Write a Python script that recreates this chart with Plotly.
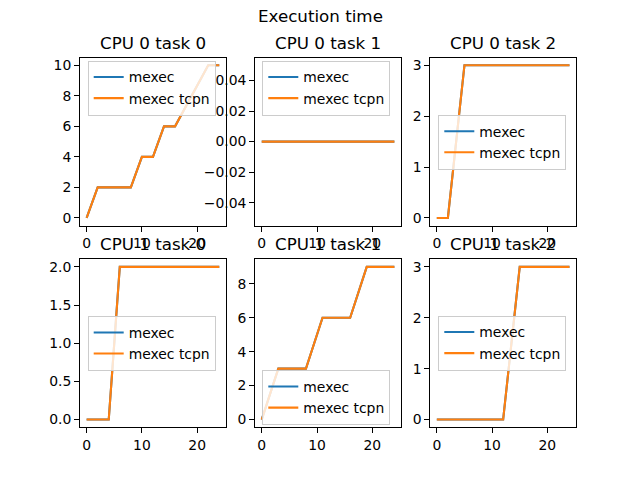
import plotly.graph_objects as go

# ---- data (breakpoints of each curve) ----
titles = ["CPU 0 task 0", "CPU 0 task 1", "CPU 0 task 2",
          "CPU 1 task 0", "CPU 1 task 1", "CPU 1 task 2"]
series_names = ["mexec", "mexec tcpn"]

c0t0_x = [0, 2, 8, 10, 12, 14, 16, 22, 24]
c0t0_mexec = [0, 2, 2, 4, 4, 6, 6, 10, 10]
c0t0_tcpn = [0, 2, 2, 4, 4, 6, 6, 10, 10]

c0t1_x = [0, 24]
c0t1_mexec = [0, 0]
c0t1_tcpn = [0, 0]

c0t2_x = [0, 2, 5, 24]
c0t2_mexec = [0, 0, 3, 3]
c0t2_tcpn = [0, 0, 3, 3]

c1t0_x = [0, 4, 6, 24]
c1t0_mexec = [0, 0, 2, 2]
c1t0_tcpn = [0, 0, 2, 2]

c1t1_x = [0, 3, 8, 11, 16, 19, 24]
c1t1_mexec = [0, 3, 3, 6, 6, 9, 9]
c1t1_tcpn = [0, 3, 3, 6, 6, 9, 9]

c1t2_x = [0, 12, 15, 24]
c1t2_mexec = [0, 0, 3, 3]
c1t2_tcpn = [0, 0, 3, 3]

xs = [c0t0_x, c0t1_x, c0t2_x, c1t0_x, c1t1_x, c1t2_x]
ys_mexec = [c0t0_mexec, c0t1_mexec, c0t2_mexec, c1t0_mexec, c1t1_mexec, c1t2_mexec]
ys_tcpn = [c0t0_tcpn, c0t1_tcpn, c0t2_tcpn, c1t0_tcpn, c1t1_tcpn, c1t2_tcpn]

x_ticks = [0, 10, 20]
y_ticks = [
    [0, 2, 4, 6, 8, 10],
    [-0.04, -0.02, 0.0, 0.02, 0.04],
    [0, 1, 2, 3],
    [0.0, 0.5, 1.0, 1.5, 2.0],
    [0, 2, 4, 6, 8],
    [0, 1, 2, 3],
]
y_tickformats = ["d", ".2f", "d", ".1f", "d", "d"]
y_ranges = [[-0.5, 10.5], [-0.055, 0.055], [-0.15, 3.15],
            [-0.1, 2.1], [-0.45, 9.45], [-0.15, 3.15]]

# ---- geometry in page pixels; page body has an 8px margin ----
OFF = 8
W, H = 640 - 2 * OFF, 480 - 2 * OFF
FONT = "DejaVu Sans"


def fx(px):
    return (px - OFF) / W


def fy(py):
    return 1 - (py - OFF) / H


col_px = [(80.0, 225.9), (255.1, 401.0), (430.2, 576.1)]
row_px = [(57.6, 225.6), (259.2, 427.2)]
col_dom = [[fx(a), fx(b)] for a, b in col_px]
row_dom = [[fy(b), fy(a)] for a, b in row_px]

# legend centres in page pixels
legend_px = [(87.7, 88), (262.3, 88), (438.3, 142.2),
             (87.7, 343.4), (262.3, 397.5), (438.3, 343)]

colors = ["#1f77b4", "#ff7f0e"]

fig = go.Figure()
layout = dict(
    width=W, height=H, margin=dict(l=0, r=0, t=0, b=0, autoexpand=False),
    paper_bgcolor="white", plot_bgcolor="white",
    font=dict(family=FONT, size=13.9, color="black"),
    showlegend=True,
)
annotations = []
for i in range(6):
    r, c = divmod(i, 3)
    suf = "" if i == 0 else str(i + 1)
    leg = "legend" if i == 0 else f"legend{i + 1}"
    for s, ys in enumerate([ys_mexec[i], ys_tcpn[i]]):
        fig.add_trace(go.Scatter(
            x=xs[i], y=ys, mode="lines", name=series_names[s],
            line=dict(color=colors[s], width=2.1),
            xaxis="x" + suf, yaxis="y" + suf, legend=leg,
        ))
    axcommon = dict(showline=True, mirror=True, linecolor="black", linewidth=1.1,
                    ticks="outside", ticklen=4.9, tickwidth=1.1, tickcolor="black",
                    showgrid=False, zeroline=False,
                    tickfont=dict(family=FONT, size=13.9, color="black"))
    layout["xaxis" + suf] = dict(axcommon, domain=col_dom[c], range=[-1.2, 25.2],
                                 tickvals=x_ticks, anchor="y" + suf)
    layout["yaxis" + suf] = dict(axcommon, domain=row_dom[r], range=y_ranges[i],
                                 tickvals=y_ticks[i], tickformat=y_tickformats[i],
                                 anchor="x" + suf)
    lx, ly = legend_px[i]
    layout[leg] = dict(x=fx(lx), y=fy(ly), xanchor="left", yanchor="middle",
                       bgcolor="rgba(255,255,255,0.8)", bordercolor="#cccccc",
                       borderwidth=1, font=dict(family=FONT, size=13.9, color="black"),
                       tracegroupgap=0)
    annotations.append(dict(
        text=titles[i], x=(col_dom[c][0] + col_dom[c][1]) / 2, y=row_dom[r][1],
        xref="paper", yref="paper", xanchor="center", yanchor="bottom",
        yshift=3, showarrow=False, font=dict(family=FONT, size=16.7, color="black")))

annotations.append(dict(
    text="Execution time", x=fx(320), y=fy(16.5), xref="paper", yref="paper",
    xanchor="center", yanchor="middle", showarrow=False,
    font=dict(family=FONT, size=16.7, color="black")))
layout["annotations"] = annotations
fig.update_layout(**layout)
fig.write_html("out.html")
